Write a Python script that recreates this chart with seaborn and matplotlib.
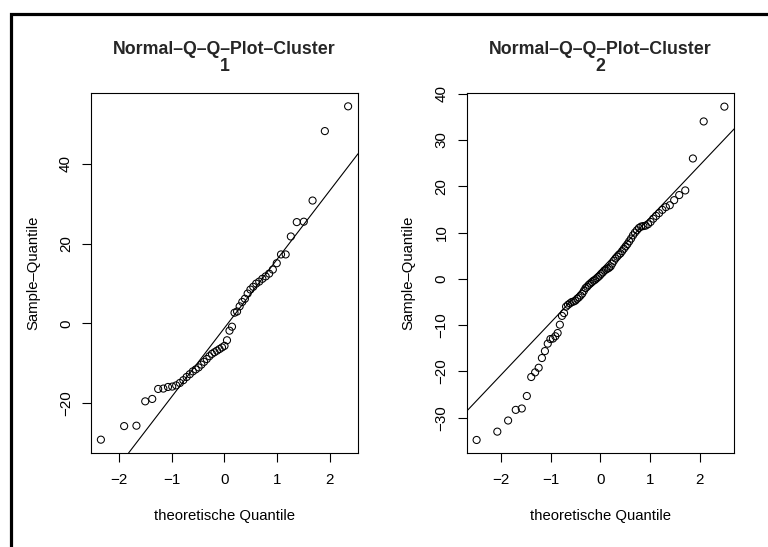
import numpy as np
import pandas as pd
import matplotlib
matplotlib.use("Agg")
import matplotlib.pyplot as plt
import seaborn as sns
from statistics import NormalDist
from matplotlib.lines import Line2D
from matplotlib.ticker import MultipleLocator

# Sample values of the two clusters (sorted)
cluster1 = [-29.1, -25.7, -25.6, -19.5, -18.9, -16.4, -16.3, -15.9, -15.8, -15.5,
            -14.9, -14.2, -13.4, -12.7, -12.0, -11.5, -11.0, -10.3, -9.6, -8.9,
            -8.2, -7.6, -7.2, -6.8, -6.4, -6.0, -5.6, -4.2, -1.8, -0.8,
            2.7, 3.0, 4.3, 5.4, 6.2, 7.5, 8.5, 9.2, 10.0, 10.5,
            11.2, 11.8, 12.5, 13.5, 15.1, 17.3, 17.3, 21.8, 25.4, 25.5,
            30.8, 48.2, 54.4]

cluster2 = [-34.8, -33.0, -30.6, -28.3, -28.0, -25.3, -21.2, -20.2, -19.2, -17.1,
            -15.6, -14.0, -13.0, -12.9, -12.4, -11.7, -9.9, -8.0, -7.4, -6.0,
            -5.6, -5.3, -5.0, -4.9, -4.7, -4.3, -4.0, -3.6, -3.2, -2.6,
            -2.0, -1.7, -1.3, -1.0, -0.7, -0.4, -0.2, 0.1, 0.4, 0.7,
            1.1, 1.4, 1.8, 2.0, 2.2, 2.4, 2.7, 3.3, 3.9, 4.4,
            4.8, 5.2, 5.5, 6.0, 6.5, 7.0, 7.5, 8.1, 8.7, 9.4,
            10.0, 10.5, 11.0, 11.3, 11.4, 11.5, 11.8, 12.3, 13.0, 13.6,
            14.2, 14.9, 15.5, 15.9, 17.0, 18.1, 19.1, 26.0, 34.0, 37.2]

titles = ["Normal\u2013Q\u2013Q\u2013Plot\u2013Cluster\n1",
          "Normal\u2013Q\u2013Q\u2013Plot\u2013Cluster\n2"]
x_label = "theoretische Quantile"
y_label = "Sample\u2013Quantile"
x_ticks = [-2, -1, 0, 1, 2]
y_tick_steps = [20, 10]


def ppoints(n):
    a = 3 / 8 if n <= 10 else 0.5
    return (np.arange(1, n + 1) - a) / (n + 1 - 2 * a)


def qq_frame(values):
    y = np.sort(np.asarray(values, dtype=float))
    nd = NormalDist()
    x = np.array([nd.inv_cdf(p) for p in ppoints(len(y))])
    return pd.DataFrame({"theo": x, "sample": y})


def qq_line(y):
    nd = NormalDist()
    q1, q3 = np.quantile(y, [0.25, 0.75])
    z1, z3 = nd.inv_cdf(0.25), nd.inv_cdf(0.75)
    slope = (q3 - q1) / (z3 - z1)
    return q1 - slope * z1, slope


def padded(lo, hi, frac=0.04):
    d = (hi - lo) * frac
    return lo - d, hi + d


sns.set_style("white")
plt.rcParams["font.family"] = ["Liberation Sans", "DejaVu Sans"]

W, H = 768, 547
fig = plt.figure(figsize=(W / 100, H / 100), dpi=100)
fig.patch.set_facecolor("white")

boxes = [(91, 93, 358, 453), (466.7, 93.3, 734.3, 453.3)]

for data, title, step, (l, t, r, b) in zip([cluster1, cluster2], titles, y_tick_steps, boxes):
    ax = fig.add_axes([l / W, 1 - b / H, (r - l) / W, (b - t) / H])
    df = qq_frame(data)
    sns.scatterplot(data=df, x="theo", y="sample", ax=ax, s=26, marker="o", linewidth=0.75)
    pts = ax.collections[0]
    pts.set_facecolor("none")
    pts.set_edgecolor("black")

    icpt, slope = qq_line(df["sample"].values)
    ax.axline((0, icpt), slope=slope, color="black", linewidth=0.8)

    ax.set_xlim(*padded(df["theo"].min(), df["theo"].max()))
    ax.set_ylim(*padded(df["sample"].min(), df["sample"].max()))
    ax.set_xticks(x_ticks)
    ax.yaxis.set_major_locator(MultipleLocator(step))

    for sp in ax.spines.values():
        sp.set_visible(True)
        sp.set_color("black")
        sp.set_linewidth(0.8)

    ax.tick_params(axis="both", which="major", direction="out", length=6.5, width=0.8,
                   color="black", labelsize=10.9, labelcolor="black")
    ax.tick_params(axis="x", pad=8, bottom=True)
    ax.tick_params(axis="y", pad=6.5, left=True)
    for lbl in ax.get_yticklabels():
        lbl.set_rotation(90)
        lbl.set_va("center")

    ax.set_xlabel(x_label, fontsize=10.7, color="black")
    ax.set_ylabel(y_label, fontsize=10.7, color="black")
    ax.xaxis.set_label_coords(0.5, -0.156)
    ax.yaxis.set_label_coords(-0.19, 0.5)

    ax.set_title(title, fontsize=12.8, fontweight="bold", pad=16, linespacing=1.02)

# outer frame
fy = 1 - 13.5 / H
fx = 10.5 / W
fig.add_artist(Line2D([fx, fx, 1.0], [0.0, fy, fy], transform=fig.transFigure,
                      color="black", linewidth=2.3, solid_joinstyle="miter"))

fig.savefig("out.png", dpi=100, facecolor="white")
